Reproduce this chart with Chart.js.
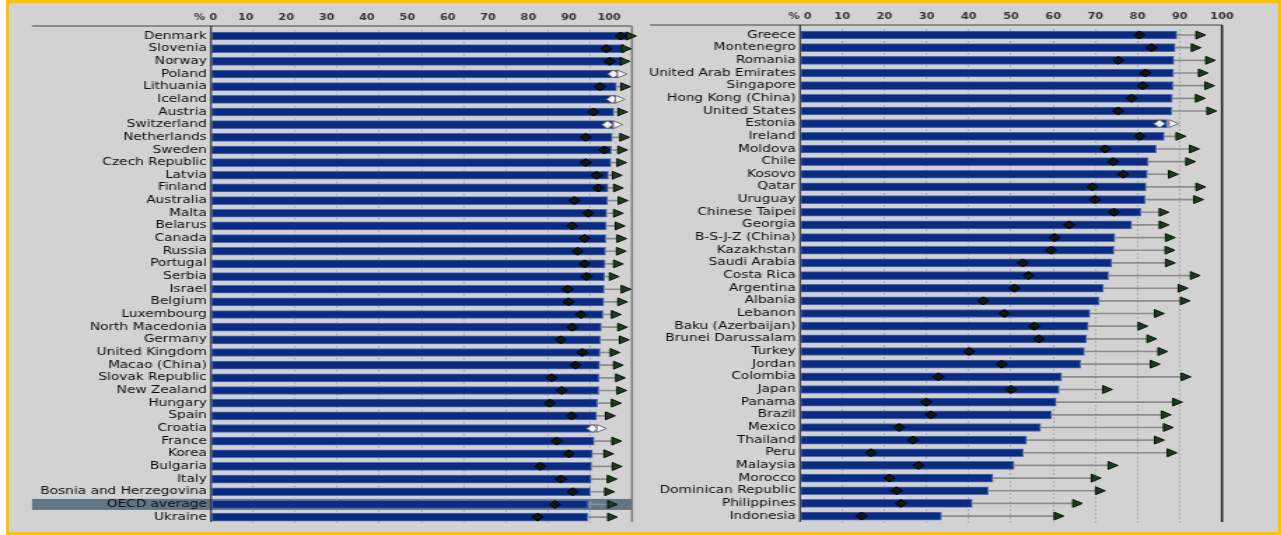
<!DOCTYPE html>
<html>
<head>
<meta charset="utf-8">
<script src="https://cdn.jsdelivr.net/npm/chart.js@4.4.1/dist/chart.umd.min.js"></script>
<style>
  html, body { margin: 0; padding: 0; background: #fff; overflow: hidden; }
  #frame { position: absolute; left: 6px; top: 0; width: 1275px; height: 535px; box-sizing: border-box; border: 3px solid #ffc000; background: #d2d2d2; }
  .panel { position: absolute; top: 0; transform: scaleX(1.4); transform-origin: 0 0; }
  .panel canvas { display: block; }
</style>
</head>
<body>
<div id="frame"></div>
<div class="panel" style="left:0"><canvas id="leftChart" width="457" height="535"></canvas></div>
<div class="panel" style="left:640px"><canvas id="rightChart" width="458" height="535"></canvas></div>
<script>
// left panel
const leftNames = ['Denmark', 'Slovenia', 'Norway', 'Poland', 'Lithuania', 'Iceland', 'Austria', 'Switzerland',
  'Netherlands', 'Sweden', 'Czech Republic', 'Latvia', 'Finland', 'Australia', 'Malta', 'Belarus', 'Canada',
  'Russia', 'Portugal', 'Serbia', 'Israel', 'Belgium', 'Luxembourg', 'North Macedonia', 'Germany',
  'United Kingdom', 'Macao (China)', 'Slovak Republic', 'New Zealand', 'Hungary', 'Spain', 'Croatia', 'France',
  'Korea', 'Bulgaria', 'Italy', 'Bosnia and Herzegovina', 'OECD average', 'Ukraine'];
const leftBar = [99.2, 98.2, 97.5, 96.6, 96.3, 96.0, 95.7, 95.5, 95.3, 95.1, 95.0, 94.4, 94.3, 94.2, 94.0, 93.9, 93.8,
  93.7, 93.6, 93.5, 93.4, 93.3, 93.1, 92.7, 92.5, 92.4, 92.3, 92.2, 92.1, 91.8, 91.6, 91.3, 91.0,
  90.6, 90.4, 90.3, 90.1, 89.6, 89.5];
const leftDiamond = [97.3, 93.9, 94.7, 95.6, 92.4, 95.3, 90.8, 94.2, 89.0, 93.4, 89.0, 91.6, 92.0, 86.3, 89.6, 85.8, 88.7,
  87.1, 88.7, 89.2, 84.7, 84.9, 87.9, 85.8, 83.1, 88.2, 86.6, 80.9, 83.3, 80.5, 85.7, 90.6, 82.1,
  85.0, 78.2, 83.1, 85.9, 81.7, 77.6];
const leftTriangle = [99.5, 98.3, 98.0, 97.3, 98.1, 96.8, 97.4, 96.3, 97.9, 97.4, 97.2, 96.1, 96.4, 97.5, 96.4, 96.8, 97.2,
  97.1, 96.4, 95.4, 98.2, 97.4, 95.9, 97.4, 97.8, 95.6, 96.4, 96.9, 97.2, 95.9, 94.5, 92.4, 96.0,
  94.1, 96.1, 94.9, 94.3, 95.0, 95.0];
const leftHollow = ['Poland', 'Iceland', 'Switzerland', 'Croatia'];

// right panel
const rightNames = ['Greece', 'Montenegro', 'Romania', 'United Arab Emirates', 'Singapore', 'Hong Kong (China)',
  'United States', 'Estonia', 'Ireland', 'Moldova', 'Chile', 'Kosovo', 'Qatar', 'Uruguay', 'Chinese Taipei',
  'Georgia', 'B-S-J-Z (China)', 'Kazakhstan', 'Saudi Arabia', 'Costa Rica', 'Argentina', 'Albania', 'Lebanon',
  'Baku (Azerbaijan)', 'Brunei Darussalam', 'Turkey', 'Jordan', 'Colombia', 'Japan', 'Panama', 'Brazil',
  'Mexico', 'Thailand', 'Peru', 'Malaysia', 'Morocco', 'Dominican Republic', 'Philippines', 'Indonesia'];
const rightBar = [89.3, 88.9, 88.6, 88.5, 88.4, 88.2, 88.1, 87.0, 86.3, 84.4, 82.5, 82.3, 82.0, 81.8, 80.8,
  78.6, 74.6, 74.4, 73.9, 73.1, 71.9, 70.9, 68.7, 68.3, 67.9, 67.4, 66.5, 62.0, 61.4, 60.7, 59.6,
  57.0, 53.7, 52.9, 50.7, 45.7, 44.6, 40.8, 33.5];
const rightDiamond = [80.4, 83.3, 75.4, 81.8, 81.2, 78.6, 75.4, 85.2, 80.5, 72.3, 74.2, 76.6, 69.3, 69.9, 74.4,
  63.8, 60.3, 59.5, 52.8, 54.1, 50.8, 43.4, 48.4, 55.5, 56.6, 40.1, 47.8, 32.8, 50.0, 29.9, 31.0,
  23.5, 26.7, 16.8, 28.1, 21.2, 22.9, 23.9, 14.6];
const rightTriangle = [94.6, 93.5, 96.9, 95.2, 96.7, 94.5, 97.2, 88.2, 89.9, 93.1, 92.2, 88.1, 94.6, 94.1, 85.9,
  85.9, 87.4, 87.3, 87.4, 93.3, 90.4, 90.9, 84.8, 80.9, 83.0, 85.6, 83.8, 91.1, 72.5, 89.1, 86.4,
  86.9, 84.8, 87.8, 73.8, 69.8, 70.8, 65.4, 61.0];
const rightHollow = ['Estonia'];

const tickValues = [0, 10, 20, 30, 40, 50, 60, 70, 80, 90, 100];

// the reference is stretched sideways, the canvases are drawn at 1/1.4 width and scaled back by css
const S = 1.4;

const tickFont = { family: 'DejaVu Sans', size: 8, weight: 'bold' };
const labelFont = { family: 'DejaVu Sans', size: 9.8 };
const gridColor = c => (c.tick && (c.tick.value === 0 || c.tick.value === 100)) ? 'rgba(0,0,0,0)' : '#a8a8a8';

const framePlugin = {
  id: 'frame',
  beforeDraw(chart, args, opts) {
    if (!opts.band) return;
    const { ctx, chartArea } = chart;
    const y = chart.scales.y;
    const yc = y.getPixelForValue(y.getLabels().indexOf(opts.band));
    ctx.save();
    ctx.fillStyle = '#607687';
    ctx.fillRect(opts.lineStart, yc - 5.5, chartArea.right - opts.lineStart, 11);
    ctx.restore();
  },
  beforeDatasetsDraw(chart, args, opts) {
    const { ctx, chartArea } = chart;
    ctx.save();
    ctx.strokeStyle = '#444';
    ctx.lineWidth = 1;
    ctx.beginPath();
    ctx.moveTo(opts.lineStart, opts.topY);
    ctx.lineTo(chartArea.right, opts.topY);
    ctx.stroke();
    ctx.strokeStyle = '#1e1e1e';
    ctx.lineWidth = 1.1;
    ctx.beginPath();
    ctx.moveTo(chartArea.left, opts.topY);
    ctx.lineTo(chartArea.left, 522);
    ctx.stroke();
    ctx.strokeStyle = opts.rightColor;
    ctx.lineWidth = 1.5;
    ctx.beginPath();
    ctx.moveTo(chartArea.right, opts.topY);
    ctx.lineTo(chartArea.right, 522);
    ctx.stroke();
    ctx.restore();
  }
};

function buildDatasets(names, bars, diamonds, triangles, hollow) {
  const isHollow = names.map(n => hollow.includes(n));
  return [
    {
      type: 'line', data: triangles, showLine: false, clip: false, xAxisID: 'x',
      pointStyle: 'triangle', pointRotation: 90, pointRadius: 4.6, pointBorderWidth: 1,
      pointBackgroundColor: isHollow.map(h => h ? '#f3f3f3' : '#1e3b1d'),
      pointBorderColor: isHollow.map(h => h ? '#6a6a6a' : '#0a120a'),
      order: 0
    },
    {
      type: 'line', data: diamonds, showLine: false, clip: false, xAxisID: 'x',
      pointStyle: 'rectRot', pointRadius: 4, pointBorderWidth: 1,
      pointBackgroundColor: isHollow.map(h => h ? '#f3f3f3' : '#111611'),
      pointBorderColor: isHollow.map(h => h ? '#6a6a6a' : '#000'),
      order: 1
    },
    {
      // thin grey link from bar end to the triangle
      data: bars.map((b, i) => [b, triangles[i]]), xAxisID: 'x',
      backgroundColor: '#8d8d8d', barThickness: 1, grouped: false, order: 2
    },
    {
      data: bars, xAxisID: 'x',
      backgroundColor: '#0b2b80', borderColor: '#4c6cbc', borderWidth: 1, borderSkipped: false,
      barThickness: 8, grouped: false, order: 3
    }
  ];
}

function yScale(width) {
  return {
    type: 'category',
    grid: { display: false, drawTicks: false },
    border: { display: false },
    ticks: { autoSkip: false, padding: 3, color: '#0d0d0d', font: labelFont },
    afterFit: s => { s.width = width; }
  };
}

// Left chart
new Chart(document.getElementById('leftChart'), {
  type: 'bar',
  data: {
    labels: leftNames,
    datasets: buildDatasets(leftNames, leftBar, leftDiamond, leftTriangle, leftHollow)
  },
  options: {
    indexAxis: 'y',
    responsive: false,
    animation: false,
    events: [],
    layout: { padding: { left: 0, right: 4.1, top: 0, bottom: 11.6 } },
    plugins: {
      legend: { display: false },
      tooltip: { enabled: false },
      frame: { lineStart: 32 / S, topY: 26, rightColor: '#7a7a7a', band: 'OECD average' }
    },
    scales: {
      x: {
        type: 'linear', position: 'bottom', min: 0, max: 100,
        ticks: { display: false, stepSize: 10 },
        grid: { drawTicks: false, color: gridColor, lineWidth: 1 },
        border: { display: false, dash: [2, 2] },
        afterFit: s => { s.height = 0; }
      },
      x2: {
        // tick labels of the left panel sit a bit off the grid in the reference
        type: 'linear', position: 'top', min: 1.37, max: 105.67,
        grid: { display: false, drawTicks: false },
        border: { display: false },
        ticks: { autoSkip: false, padding: 7, color: '#333', font: tickFont, callback: v => v === 0 ? '% 0' : v },
        afterBuildTicks: s => { s.ticks = tickValues.map(v => ({ value: v })); },
        afterFit: s => { s.height = 29.7; }
      },
      y: yScale(211 / S)
    }
  },
  plugins: [framePlugin]
});

// Right chart
new Chart(document.getElementById('rightChart'), {
  type: 'bar',
  data: {
    labels: rightNames,
    datasets: buildDatasets(rightNames, rightBar, rightDiamond, rightTriangle, rightHollow)
  },
  options: {
    indexAxis: 'y',
    responsive: false,
    animation: false,
    events: [],
    layout: { padding: { left: 0, right: 42.3, top: 0, bottom: 12.6 } },
    plugins: {
      legend: { display: false },
      tooltip: { enabled: false },
      frame: { lineStart: 10 / S, topY: 25, rightColor: '#1e1e1e' }
    },
    scales: {
      x: {
        type: 'linear', position: 'top', min: 0, max: 100,
        ticks: { stepSize: 10, autoSkip: false, padding: 7, color: '#333', font: tickFont, callback: v => v === 0 ? '% 0' : v },
        grid: { drawTicks: false, color: gridColor, lineWidth: 1 },
        border: { display: false, dash: [2, 2] },
        afterFit: s => { s.height = 28.7; }
      },
      y: yScale(160 / S)
    }
  },
  plugins: [framePlugin]
});
</script>
</body>
</html>
